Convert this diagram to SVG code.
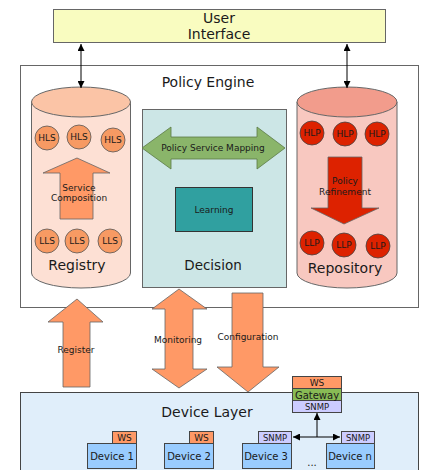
<svg xmlns="http://www.w3.org/2000/svg" width="422" height="470" viewBox="0 0 422 470">
<defs>
<style>
text{font-family:"DejaVu Sans",Verdana,sans-serif;text-anchor:middle;fill:#1a1a1a}
.t13{font-size:14px}
.t14{font-size:14px}
.t9{font-size:9px}
.t10{font-size:10px}
.t8{font-size:8.5px}
.frame{fill:#fff;stroke:#666;stroke-width:1}
.orange{fill:#ff9966;stroke:#666;stroke-width:0.8}
.red{fill:#dd2200;stroke:#666;stroke-width:0.8}
.hls{fill:#f79a63;stroke:#555;stroke-width:0.8}
.hlp{fill:#dd2200;stroke:#444;stroke-width:0.8}
.dev{fill:#99ccff;stroke:#444;stroke-width:1}
.ws{fill:#ff9966;stroke:#444;stroke-width:1}
.snmp{fill:#ccccff;stroke:#444;stroke-width:1}
.line{stroke:#000;stroke-width:1;fill:none}
</style>
<marker id="ah" viewBox="0 0 10 10" refX="10" refY="5" markerWidth="7" markerHeight="7" orient="auto-start-reverse" markerUnits="userSpaceOnUse">
<path d="M0,0 L10,5 L0,10 z" fill="#000"/>
</marker>
</defs>

<g id="user-interface">
<rect x="53.5" y="9.5" width="332" height="33" fill="#f9fcc0" stroke="#666"/>
<text class="t13" x="219" y="23">User</text>
<text class="t13" x="219" y="39">Interface</text>
</g>

<g id="policy-engine">
<rect class="frame" x="20.5" y="65.5" width="398" height="242"/>
<text class="t13" x="208" y="87">Policy Engine</text>
</g>

<g id="registry">
<path d="M31.5,102 L31.5,273 A49.5,15 0 0 0 130.5,273 L130.5,102 Z" fill="#fde0d4" stroke="#666"/>
<ellipse cx="81" cy="102" rx="49.5" ry="15" fill="#fbc4a6" stroke="#666"/>
<circle class="hls" cx="47" cy="138" r="12"/>
<circle class="hls" cx="79" cy="137" r="12"/>
<circle class="hls" cx="113" cy="140" r="12"/>
<text class="t9" x="47" y="141">HLS</text>
<text class="t9" x="79" y="140">HLS</text>
<text class="t9" x="113" y="143">HLS</text>
<path class="orange" d="M77,158 L110,173 L93,173 L93,219 L60,219 L60,173 L43,173 Z"/>
<text class="t9" x="79" y="191">Service</text>
<text class="t9" x="79" y="201">Composition</text>
<circle class="hls" cx="47" cy="241" r="12"/>
<circle class="hls" cx="77" cy="241" r="12"/>
<circle class="hls" cx="110" cy="241" r="12"/>
<text class="t9" x="47" y="244">LLS</text>
<text class="t9" x="77" y="244">LLS</text>
<text class="t9" x="110" y="244">LLS</text>
<text class="t14" x="77" y="270">Registry</text>
</g>

<g id="decision">
<rect x="142.5" y="109.5" width="144" height="178" fill="#cce6e6" stroke="#666"/>
<path d="M142,148 L171,127 L171,137 L257,137 L257,127 L285,148 L257,169 L257,159 L171,159 L171,169 Z" fill="#8ab56a" stroke="#5a7a45" stroke-width="0.8"/>
<text class="t9" x="213" y="151">Policy Service Mapping</text>
<rect x="175.5" y="187.5" width="77" height="44" fill="#30a0a0" stroke="#333"/>
<text class="t9" x="214" y="213">Learning</text>
<text x="213" y="270" style="font-size:13.5px">Decision</text>
</g>

<g id="repository">
<path d="M297,102 L297,273 A50,15 0 0 0 397,273 L397,102 Z" fill="#f8c8c0" stroke="#666"/>
<ellipse cx="347" cy="102" rx="50" ry="15" fill="#f29c8c" stroke="#666"/>
<circle class="hlp" cx="312" cy="133" r="12"/>
<circle class="hlp" cx="345" cy="134" r="12"/>
<circle class="hlp" cx="377" cy="134" r="12"/>
<text class="t9" x="312" y="136">HLP</text>
<text class="t9" x="345" y="137">HLP</text>
<text class="t9" x="377" y="137">HLP</text>
<path class="red" d="M328,157 L362,157 L362,208 L379,208 L344,224 L311,208 L328,208 Z"/>
<text class="t9" x="345" y="184">Policy</text>
<text class="t9" x="345" y="195">Refinement</text>
<circle class="hlp" cx="312" cy="243" r="12"/>
<circle class="hlp" cx="344" cy="245" r="12"/>
<circle class="hlp" cx="378" cy="246" r="12"/>
<text class="t9" x="312" y="246">LLP</text>
<text class="t9" x="344" y="248">LLP</text>
<text class="t9" x="378" y="249">LLP</text>
<text class="t14" x="345" y="273">Repository</text>
</g>

<g id="device-layer">
<rect x="20.5" y="392.5" width="398" height="90" fill="#e0eefa" stroke="#444"/>
<text class="t14" x="207" y="417">Device Layer</text>
</g>

<g id="connectors">
<line class="line" x1="81" y1="44" x2="81" y2="88" marker-start="url(#ah)" marker-end="url(#ah)"/>
<line class="line" x1="347" y1="44" x2="347" y2="88" marker-start="url(#ah)" marker-end="url(#ah)"/>
<path class="orange" d="M77,299 L103,322 L90,322 L90,387 L63,387 L63,322 L48,322 Z"/>
<text class="t9" x="76" y="353">Register</text>
<path class="orange" d="M179,289 L207,309 L193,309 L193,369 L207,369 L179,388 L152,369 L165,369 L165,309 L152,309 Z"/>
<text class="t9" x="178" y="343">Monitoring</text>
<path class="orange" d="M232,293 L263,293 L263,367 L279,367 L248,392 L217,367 L232,367 Z"/>
<text class="t9" x="248" y="340">Configuration</text>
<line class="line" x1="317" y1="437" x2="317" y2="413" marker-end="url(#ah)"/>
<line class="line" x1="293" y1="437" x2="340" y2="437" marker-start="url(#ah)" marker-end="url(#ah)"/>
</g>

<g id="gateway">
<rect class="ws" x="292.5" y="376.5" width="49" height="12"/>
<rect x="292.5" y="388.5" width="49" height="12" fill="#88bb55" stroke="#444"/>
<rect class="snmp" x="292.5" y="400.5" width="49" height="12"/>
<text class="t9" x="317" y="386">WS</text>
<text class="t10" x="317" y="398.5">Gateway</text>
<text class="t8" x="317" y="410">SNMP</text>
</g>

<g id="device-1">
<rect class="ws" x="112.5" y="431.5" width="24" height="12"/>
<text class="t9" x="124.5" y="441">WS</text>
<rect class="dev" x="87.5" y="443.5" width="49" height="25"/>
<text class="t10" x="112" y="460">Device 1</text>
</g>
<g id="device-2">
<rect class="ws" x="189.5" y="431.5" width="24" height="12"/>
<text class="t9" x="201.5" y="441">WS</text>
<rect class="dev" x="164.5" y="443.5" width="49" height="25"/>
<text class="t10" x="189" y="460">Device 2</text>
</g>
<g id="device-3">
<rect class="snmp" x="258.5" y="431.5" width="33" height="12"/>
<text class="t8" x="275" y="441">SNMP</text>
<rect class="dev" x="242.5" y="443.5" width="49" height="25"/>
<text class="t10" x="266" y="460">Device 3</text>
</g>
<g id="device-n">
<rect class="snmp" x="341.5" y="431.5" width="33" height="12"/>
<text class="t8" x="358" y="441">SNMP</text>
<rect class="dev" x="326.5" y="443.5" width="48" height="25"/>
<text class="t10" x="350" y="460">Device n</text>
</g>
<text class="t10" x="312" y="466">...</text>
</svg>
